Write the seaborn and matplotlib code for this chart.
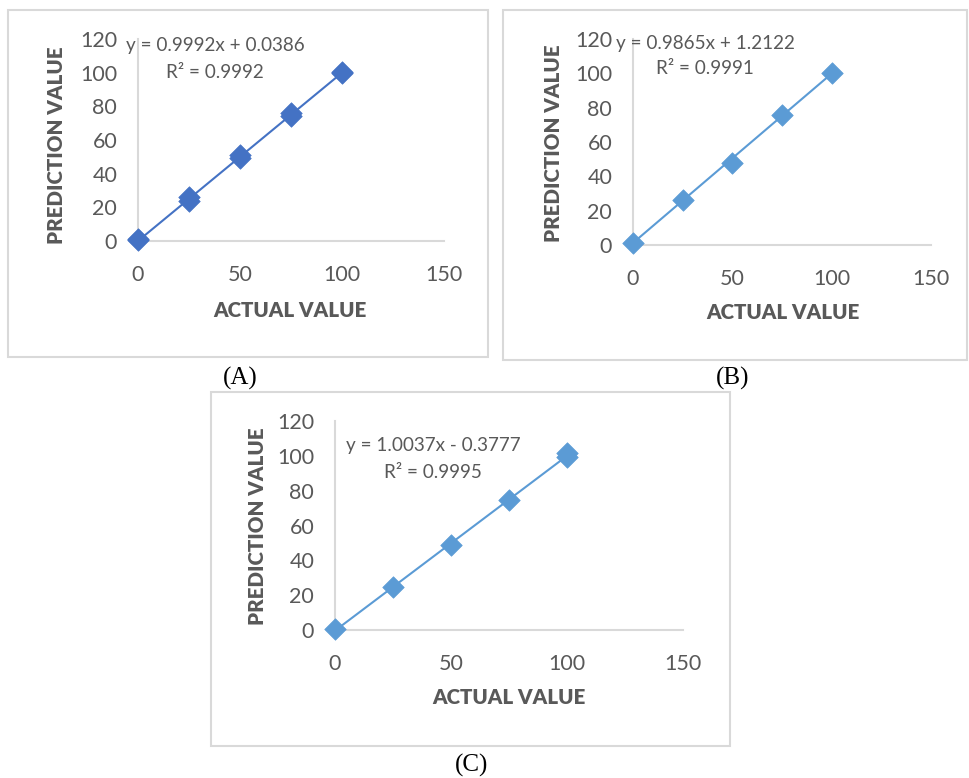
import numpy as np
import pandas as pd
import matplotlib
matplotlib.use("Agg")
import matplotlib.pyplot as plt
from matplotlib.patches import Rectangle
import seaborn as sns

# ---------------------------------------------------------
# DATA
# ---------------------------------------------------------
actual_a = [0, 0, 25, 25, 50, 50, 75, 75, 100, 100]
pred_a = [1.0, 0.8, 23.8, 26.0, 49.2, 51.0, 74.0, 76.0, 99.6, 100.4]
actual_b = [0, 25, 50, 75, 100]
pred_b = [1.0, 26.5, 48.0, 76.0, 100.0]
actual_c = [0, 25, 50, 75, 100, 100]
pred_c = [0.5, 24.5, 49.0, 74.5, 99.5, 101.5]

slope = [0.9992, 0.9865, 1.0037]
intercept = [0.0386, 1.2122, -0.3777]
eq_text = ["y = 0.9992x + 0.0386", "y = 0.9865x + 1.2122", "y = 1.0037x - 0.3777"]
r2_text = ["R² = 0.9992", "R² = 0.9991", "R² = 0.9995"]
panel_labels = ["(A)", "(B)", "(C)"]
x_ticks = [0, 50, 100, 150]
y_ticks = [0, 20, 40, 60, 80, 100, 120]

colors = ["#4472C4", "#5B9BD5", "#5B9BD5"]
grey_text = "#595959"
axis_grey = "#D9D9D9"

sns.set_style("white")
plt.rcParams['font.family'] = ['Lato', 'DejaVu Sans']

W, H = 969, 778
fig = plt.figure(figsize=(W / 100, H / 100), dpi=100)


def fx(px):
    return px / W


def fy(py):
    return 1 - py / H


# panel frames (x0, y0, x1, y1) in pixels from top-left
frames = [(8, 10, 488, 357), (503, 10, 967, 360), (211, 392, 730, 746)]
# axes box: x of 0, x of 150, y of 0, y of 120 in pixels
boxes = [(138, 444, 241, 39), (633, 931, 245, 39), (335, 683, 630, 421)]
eq_pos = [(215, 46, 72), (705, 43, 69), (433, 446, 472)]
xlab_pos = [(290, 310), (783, 313), (509, 698)]
ylab_pos = [(57, 145), (553, 143), (258, 526)]
panel_pos = [(240, 378), (733, 378), (472, 765)]

datasets = [(actual_a, pred_a), (actual_b, pred_b), (actual_c, pred_c)]

for i in range(3):
    x0, y0, x1, y1 = frames[i]
    fig.patches.append(Rectangle((fx(x0), fy(y1)), fx(x1 - x0), (y1 - y0) / H,
                                 transform=fig.transFigure, fill=False,
                                 edgecolor=axis_grey, linewidth=1.5))

    bx0, bx1, by0, by1 = boxes[i]
    ax = fig.add_axes([fx(bx0), fy(by0), fx(bx1 - bx0), (by0 - by1) / H])
    ax.patch.set_alpha(0)

    df = pd.DataFrame({"actual": datasets[i][0], "pred": datasets[i][1]})
    line_x = np.array([0, 100])
    line_y = slope[i] * line_x + intercept[i]
    sns.lineplot(x=line_x, y=line_y, ax=ax, color=colors[i], linewidth=1.5)
    sns.scatterplot(data=df, x="actual", y="pred", ax=ax, marker="D", s=120,
                    color=colors[i], edgecolor=colors[i], linewidth=0.5,
                    clip_on=False, zorder=3)

    ax.set_xlim(0, 150)
    ax.set_ylim(0, 120)
    ax.set_xticks(x_ticks)
    ax.set_yticks(y_ticks)
    ax.set_xlabel("")
    ax.set_ylabel("")
    for s in ["top", "right"]:
        ax.spines[s].set_visible(False)
    for s in ["left", "bottom"]:
        ax.spines[s].set_color(axis_grey)
        ax.spines[s].set_linewidth(1.5)
    ax.tick_params(axis="x", length=0, pad=17, labelsize=15.5, labelcolor=grey_text)
    ax.tick_params(axis="y", length=0, pad=15, labelsize=15.5, labelcolor=grey_text)

    ex, ey1, ey2 = eq_pos[i]
    fig.text(fx(ex), fy(ey1), eq_text[i], ha="center", va="center", fontsize=13.6, color=grey_text)
    fig.text(fx(ex), fy(ey2), r2_text[i], ha="center", va="center", fontsize=13.6, color=grey_text)

    lx, ly = xlab_pos[i]
    fig.text(fx(lx), fy(ly), "ACTUAL VALUE", ha="center", va="center",
             fontsize=14.8, fontweight="heavy", color=grey_text)
    lx, ly = ylab_pos[i]
    fig.text(fx(lx), fy(ly), "PREDICTION VALUE", ha="center", va="center", rotation=90,
             fontsize=14.8, fontweight="heavy", color=grey_text)

    px, py = panel_pos[i]
    fig.text(fx(px), fy(py), panel_labels[i], ha="center", va="center",
             fontsize=18, family="Liberation Serif", color="black")

fig.savefig("out.png", dpi=100)
